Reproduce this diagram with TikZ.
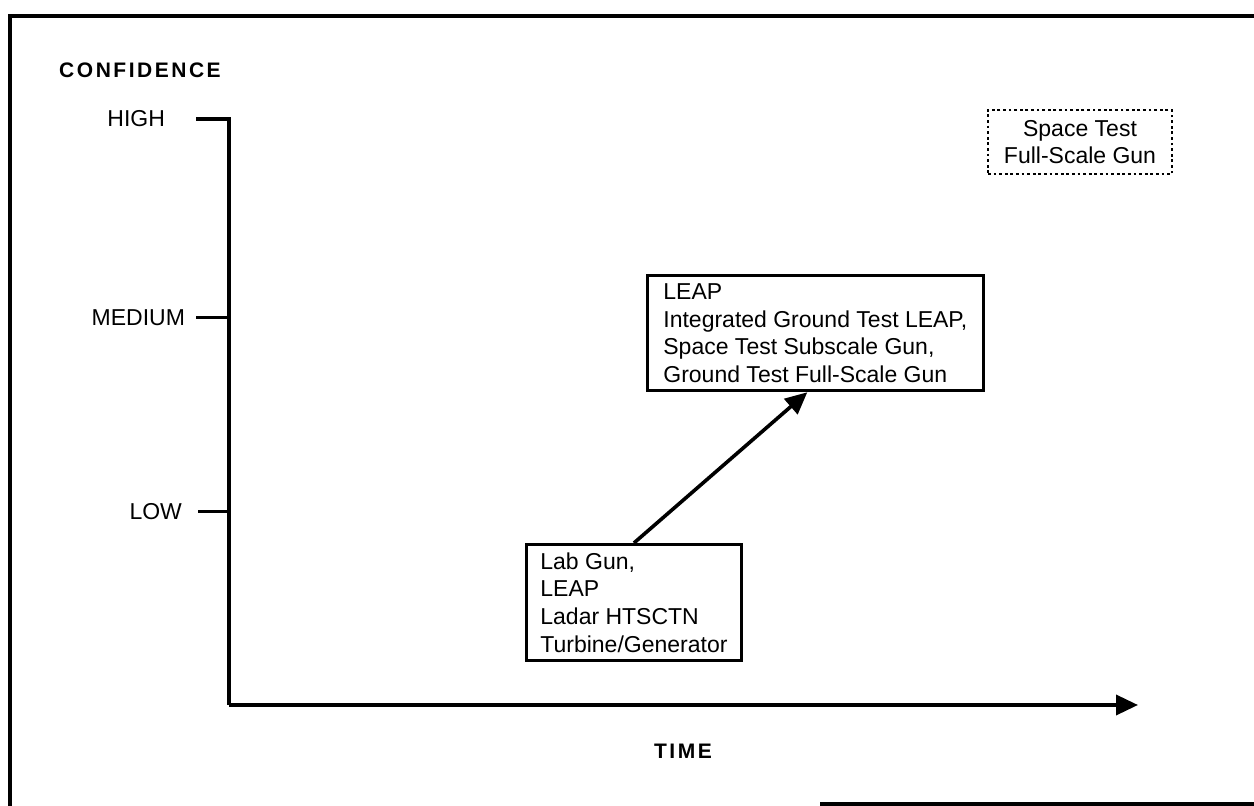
\documentclass[tikz,border=0pt]{standalone}
\usepackage{fontspec}
\setmainfont{Liberation Sans}
\usetikzlibrary{arrows.meta,positioning,calc}

\begin{document}
\begin{tikzpicture}[x=0.5pt,y=-0.5pt,
  every node/.style={font=\fontsize{11.5}{13.9}\selectfont},
  axistitle/.style={font=\fontsize{10.5}{12}\selectfont\bfseries\addfontfeature{LetterSpace=12}},
  axisline/.style={line width=1.8pt},
  levelmark/.style={line width=1.5pt},
  stagebox/.style={draw,line width=1.4pt,align=left,inner xsep=7pt,inner ysep=4pt},
  futurebox/.style={draw,line width=1.3pt,dash pattern=on 1.4pt off 1.4pt,align=center,inner xsep=8pt,inner ysep=5pt},
  bigtip/.style={-{Triangle[length=11pt,width=10pt]}}]
  \useasboundingbox (0,0) rectangle (1254,806);
  % frame
  \draw[line width=2pt] (10,806) -- (10,16) -- (1254,16);
  \draw[line width=2pt] (820,804) -- (1254,804);
  % axes
  \node[axistitle] (conf) at (140,70) {CONFIDENCE};
  \node[axistitle] (time) at (683,751) {TIME};
  \coordinate (origin) at (229,705);
  \coordinate (xend) at (1138,705);
  \draw[axisline] (196,119) -- (229,119) -- (origin);
  \draw[axisline,bigtip] (origin) -- (xend);
  \node[anchor=east] (high) at (172,119) {HIGH};
  \node[anchor=east] (medium) at (192,318) {MEDIUM};
  \node[anchor=east] (low) at (189,512) {LOW};
  \draw[levelmark] (196,318) -- (229,318);
  \draw[levelmark] (198,512) -- (229,512);
  % stages
  \node[stagebox,anchor=north west] (now) at (525,543) {Lab Gun,\\LEAP\\Ladar HTSCTN\\Turbine/Generator};
  \node[stagebox,anchor=north west,inner xsep=8pt] (mid) at (646,274) {LEAP\\Integrated Ground Test LEAP,\\Space Test Subscale Gun,\\Ground Test Full-Scale Gun};
  \node[futurebox] (full) at (1080,142) {Space Test\\Full-Scale Gun};
  \draw[line width=1.8pt,bigtip] (now.north) -- ([xshift=-4pt]mid.south);
\end{tikzpicture}
\end{document}
